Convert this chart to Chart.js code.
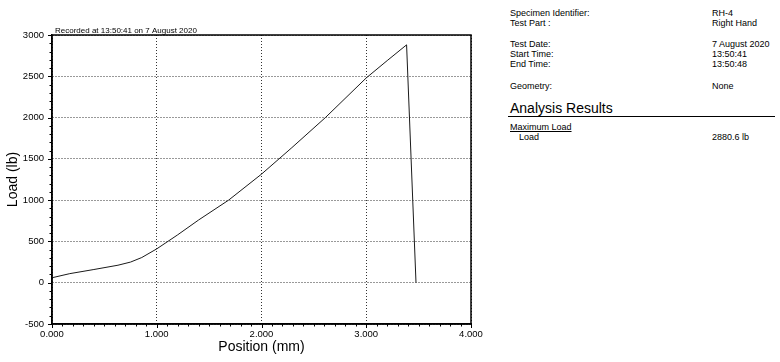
<!DOCTYPE html>
<html>
<head>
<meta charset="utf-8">
<script src="https://cdn.jsdelivr.net/npm/chart.js@4/dist/chart.umd.min.js"></script>
<style>
  html, body { margin:0; padding:0; background:#fff; }
  body { width:780px; height:362px; position:relative; overflow:hidden; font-family:"Liberation Sans", Arial, sans-serif; color:#000; }
  #wrap { position:absolute; left:0; top:0; width:490px; height:362px; }
  .t { position:absolute; font-size:9px; line-height:10px; white-space:nowrap; }
  .h { position:absolute; font-size:14px; line-height:14px; white-space:nowrap; }
  .rule { position:absolute; left:508px; width:267px; top:116px; height:0; border-top:1.5px solid #000; }
</style>
</head>
<body>
<div id="wrap"><canvas id="c" width="490" height="362"></canvas></div>

<div class="t" style="left:510px; top:8px;">Specimen Identifier:</div>
<div class="t" style="left:712px; top:8px;">RH-4</div>
<div class="t" style="left:510px; top:18px;">Test Part :</div>
<div class="t" style="left:712px; top:18px;">Right Hand</div>
<div class="t" style="left:510px; top:39px;">Test Date:</div>
<div class="t" style="left:712px; top:39px;">7 August 2020</div>
<div class="t" style="left:510px; top:49px;">Start Time:</div>
<div class="t" style="left:712px; top:49px;">13:50:41</div>
<div class="t" style="left:510px; top:59px;">End Time:</div>
<div class="t" style="left:712px; top:59px;">13:50:48</div>
<div class="t" style="left:510px; top:81px;">Geometry:</div>
<div class="t" style="left:712px; top:81px;">None</div>
<div class="h" style="left:510px; top:101px;">Analysis Results</div>
<div class="rule"></div>
<div class="t" style="left:510px; top:122px; text-decoration:underline;">Maximum Load</div>
<div class="t" style="left:519px; top:132px;">Load</div>
<div class="t" style="left:712px; top:132px;">2880.6 lb</div>

<script>
// Data
const positions = [0.000, 0.170, 0.400, 0.630, 0.750, 0.857, 1.000, 1.200, 1.400, 1.686, 2.000, 2.290, 2.610, 3.000, 3.200, 3.385, 3.475];
const loads     = [60,    110,   160,   212,   250,   305,   410,   580,   760,   1000,  1315,  1636,  2000,  2480,  2690,  2880.6, 0];
const yTicks = [-500, 0, 500, 1000, 1500, 2000, 2500, 3000];
const xTicks = [0, 1, 2, 3, 4];
const chartTitle = "Recorded at 13:50:41 on 7 August 2020";
const xTitle = "Position (mm)";
const yTitle = "Load (lb)";

const points = positions.map((p, i) => ({ x: p, y: loads[i] }));
const FONT = "'Liberation Sans', Arial, sans-serif";

const framePlugin = {
  id: 'frame',
  afterDraw(chart) {
    const { ctx, chartArea: a, scales } = chart;
    const xs = scales.x, ys = scales.y;
    ctx.save();
    ctx.strokeStyle = '#000';
    ctx.lineWidth = 1.5;
    ctx.strokeRect(a.left, a.top, a.right - a.left, a.bottom - a.top);
    ctx.lineWidth = 1;
    ctx.beginPath();
    for (let i = 0; i <= 40; i++) {
      const px = Math.round(xs.getPixelForValue(i / 10)) + 0.5;
      const len = (i % 10 === 0) ? 4 : 2.5;
      ctx.moveTo(px, a.bottom);
      ctx.lineTo(px, a.bottom + len);
    }
    for (let v = -500; v <= 3000; v += 100) {
      const py = Math.round(ys.getPixelForValue(v)) + 0.5;
      const len = (v % 500 === 0) ? 4 : 2.5;
      ctx.moveTo(a.left, py);
      ctx.lineTo(a.left - len, py);
    }
    ctx.stroke();
    ctx.fillStyle = '#000';
    ctx.font = "8px " + FONT;
    ctx.textAlign = 'left';
    ctx.textBaseline = 'alphabetic';
    ctx.fillText(chartTitle, a.left + 3, a.top - 2);
    ctx.restore();
  }
};

new Chart(document.getElementById('c'), {
  type: 'line',
  data: {
    datasets: [{
      data: points,
      borderColor: '#1a1a1a',
      borderWidth: 1,
      pointRadius: 0,
      tension: 0,
      fill: false
    }]
  },
  options: {
    responsive: false,
    animation: false,
    events: [],
    layout: { padding: { top: 35, right: 19, bottom: 0, left: 0 } },
    plugins: { legend: { display: false }, tooltip: { enabled: false }, title: { display: false } },
    scales: {
      x: {
        type: 'linear',
        min: 0, max: 4,
        afterFit(s) { s.height = 38; },
        afterBuildTicks(s) { s.ticks = xTicks.map(v => ({ value: v })); },
        ticks: {
          color: '#000', padding: 5, maxRotation: 0, autoSkip: false,
          font: { family: FONT, size: 9.5 },
          callback: v => Number(v).toFixed(3)
        },
        grid: { color: '#333', lineWidth: 1, drawTicks: false },
        border: { display: true, color: '#000', width: 1.5, dash: [1, 2] },
        title: { display: true, text: xTitle, color: '#000', font: { family: FONT, size: 14 }, padding: { top: 0, bottom: 6 } }
      },
      y: {
        type: 'linear',
        min: -500, max: 3000,
        afterFit(s) { s.width = 52; },
        afterBuildTicks(s) { s.ticks = yTicks.map(v => ({ value: v })); },
        ticks: {
          color: '#000', padding: 8, autoSkip: false,
          font: { family: FONT, size: 9.5 },
          callback: v => String(v)
        },
        grid: { color: '#333', lineWidth: 1, drawTicks: false },
        border: { display: true, color: '#000', width: 1.5, dash: [1, 2] },
        title: { display: true, text: yTitle, color: '#000', font: { family: FONT, size: 14 }, padding: { top: 5, bottom: 0 } }
      }
    }
  },
  plugins: [framePlugin]
});
</script>
</body>
</html>
